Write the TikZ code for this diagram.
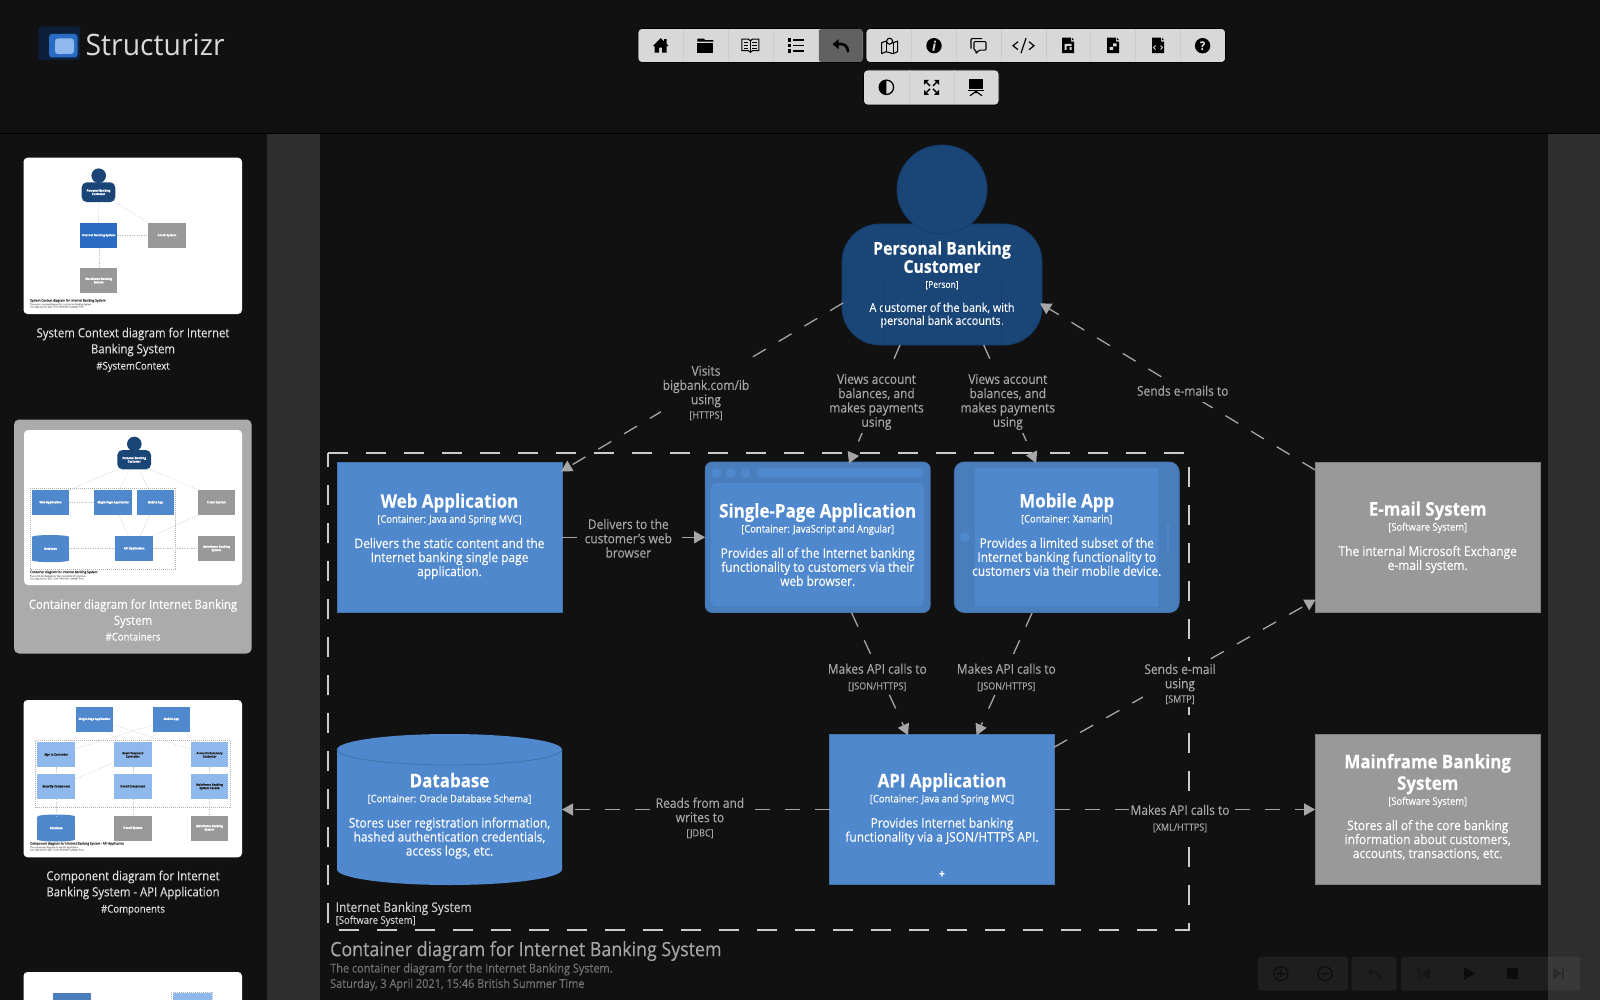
\documentclass[tikz,border=0pt]{standalone}
\usepackage{fontspec}
\setmainfont[FakeStretch=0.9,FakeBold=0.2]{Open Sans}
\newfontfamily\logofont[FakeStretch=0.96]{Open Sans}
\usetikzlibrary{arrows.meta,calc,shapes.geometric}
\AtBeginDocument{\lineskiplimit=-30pt\relax}
\definecolor{bg}{HTML}{111111}
\definecolor{stripe}{HTML}{2E2E2E}
\definecolor{cblue}{HTML}{5088CD}
\definecolor{cdark}{HTML}{4A7DBB}
\definecolor{cedge}{HTML}{4472AA}
\definecolor{pblue}{HTML}{1A4577}
\definecolor{pedge}{HTML}{163C6A}
\definecolor{gbox}{HTML}{999999}
\definecolor{gedge}{HTML}{7F7F7F}
\definecolor{lnk}{HTML}{A6A6A6}
\definecolor{bnd}{HTML}{CCCCCC}
\definecolor{tbar}{HTML}{D8D8D8}
\definecolor{tlight}{HTML}{8FB9EC}
\definecolor{sysblue}{HTML}{2A6BC4}
\newcommand\ttlA{\fontsize{18.8}{19}\bfseries\selectfont}
\newcommand\ttlC{\fontsize{17.6}{18}\bfseries\selectfont}
\newcommand\metaA{\fontsize{10.4}{11}\selectfont}
\newcommand\metaC{\fontsize{9.4}{10}\selectfont}
\newcommand\descA{\fontsize{13.25}{14}\selectfont}
\newcommand\descC{\fontsize{12.05}{13}\selectfont}
\newcommand\lmeta{\fontsize{10}{10}\selectfont}
\newcommand\toplift[1]{\rule{0pt}{#1}}
\newcommand\botdrop[1]{\rule[-#1]{0pt}{0pt}}
\tikzset{
 x=1pt,y=-1pt,
 cardbase/.style={rectangle,inner sep=0pt,outer sep=0pt,text=white,align=center,
   minimum width=225pt,minimum height=150.5pt,line width=.8pt,
   font=\fontsize{14}{14}\selectfont},
 cont/.style={cardbase,fill=cblue,draw=cedge},
 sys/.style={cardbase,fill=gbox,draw=gedge},
 lbl/.style={rectangle,fill=bg,text=lnk,align=center,inner xsep=1.5pt,inner ysep=3pt,
   font=\fontsize{13.3}{14.3}\selectfont},
 conn/.style={draw=lnk,line width=1.3pt,dash pattern=on 15pt off 15pt,
   -{Triangle[length=11pt,width=12pt,fill=lnk]}},
 tbgrp/.style={fill=tbar,draw=black,line width=.6pt,rounded corners=4pt},
 tsep/.style={draw=black!6!tbar,line width=.7pt},
 icon/.style={fill=black,draw=none},
 iconl/.style={draw=black,fill=none,line width=1.1pt},
 thumb/.style={fill=white,rounded corners=4pt},
 tb/.style={rectangle,inner sep=.3pt,outer sep=0pt,text=white,align=center,
   font=\fontsize{3}{3.4}\bfseries\selectfont},
 tc/.style={draw=black!25,line width=.3pt,dash pattern=on 1.2pt off 1.2pt},
 tbnd/.style={draw=black!30,line width=.5pt,dash pattern=on 1pt off 1pt},
 ttitle/.style={anchor=west,inner sep=0pt,text=black!75,font=\fontsize{3.4}{3.6}\selectfont},
 tsub/.style={anchor=west,inner sep=0pt,text=black!35,font=\fontsize{2.4}{2.6}\selectfont},
 side/.style={align=center,inner sep=0pt,text=black!13,font=\fontsize{12.63}{16}\selectfont},
 sidetag/.style={align=center,inner sep=0pt,text=black!13,font=\fontsize{10.67}{11}\selectfont},
 ctl/.style={fill=white,fill opacity=.055,rounded corners=3pt},
 cicon/.style={draw=black,line width=1.1pt,opacity=.6},
 cfill/.style={fill=black,opacity=.6},
 cfaint/.style={fill=black,opacity=.25},
}
\begin{document}
\begin{tikzpicture}
\useasboundingbox (0,0) rectangle (1600,1000);
\fill[bg] (0,0) rectangle (1600,1000);
% canvas stripes
\fill[stripe] (267,134) rectangle (320,1000);
\fill[stripe] (1547.5,134) rectangle (1600,1000);
\draw[black,line width=1pt] (0,133.5) -- (1600,133.5);

% ---------- logo
\fill[fill=sysblue!30!black,rounded corners=2pt] (38.5,26.5) rectangle (80,60);
\fill[sysblue,rounded corners=3pt] (49,34) rectangle (77.5,57.5);
\fill[tlight,rounded corners=3pt] (55,38.5) rectangle (74,54);
\node[anchor=west,inner sep=0pt,text=black!15,font=\logofont\fontsize{29.5}{30}\selectfont] (logo) at (85.5,45) {Structurizr};

% ---------- toolbar
\draw[tbgrp] (638,28.5) rectangle (863,62.5);
\draw[tbgrp] (866,28.5) rectangle (1225.5,62.5);
\draw[tbgrp] (863.5,70) rectangle (999,105);
\fill[black!62,rounded corners=3pt] (818.5,29) rectangle (862.7,62);
\foreach \xx in {683,728,773,818,911.5,956.5,1001,1046,1090.5,1135.5,1180.5}{\draw[tsep] (\xx,29) -- (\xx,62);}
\foreach \xx in {909,954}{\draw[tsep] (\xx,70.5) -- (\xx,104.5);}
% home
\begin{scope}[shift={(660.7,45.7)}]
\fill[icon] (-8,0.5)--(0,-7.5)--(3.5,-4)--(3.5,-6.5)--(6,-6.5)--(6,-1.5)--(8,0.5)--(6,0.5)--(6,7)--(1.5,7)--(1.5,2)--(-1.5,2)--(-1.5,7)--(-6,7)--(-6,0.5)--cycle;
\end{scope}
% folder
\begin{scope}[shift={(705.4,45.7)}]
\fill[icon] (-8,-7)--(-1.5,-7)--(0,-5.5)--(8,-5.5)--(8,-4)--(-8,-4)--cycle;
\fill[icon] (-8,-3)rectangle(8,7);
\end{scope}
% book
\begin{scope}[shift={(750.4,45.7)}]
\draw[iconl] (0,-5)--(-2,-6.5)--(-8.5,-6.5)--(-8.5,5)--(-2,5)--(0,6.5)--(2,5)--(8.5,5)--(8.5,-6.5)--(2,-6.5)--cycle;
\draw[iconl] (0,-5)--(0,6.5);
\foreach \yy in {-3.5,-.5,2.5}{\draw[line width=.9pt] (-6.5,\yy)--(-2,\yy) (2,\yy)--(6.5,\yy);}
\end{scope}
% list
\begin{scope}[shift={(795.5,45.7)}]
\foreach \yy in {-5.5,0,5.5}{\fill[icon] (-8,\yy-1.7) rectangle (-4.6,\yy+1.7);\draw[line width=1.5pt] (-2.5,\yy)--(8,\yy);}
\end{scope}
% undo
\begin{scope}[shift={(840.6,45.7)}]
\fill[icon] (-8,-1.5)--(-2,-6.5)--(-2,3.5)--cycle;
\draw[line width=2.6pt] (-3,-1.5) .. controls (4,-2.5) and (7,0) .. (7.5,6.5);
\end{scope}
% map
\begin{scope}[shift={(889.6,45.7)}]
\draw[iconl,line join=round] (-8,-3)--(-3.5,-4.5)--(3.5,-3)--(8,-4.5)--(8,6)--(3.5,8)--(-3.5,6)--(-8,8)--cycle;
\draw[iconl] (-3.5,-4.5)--(-3.5,6) (3.5,-3)--(3.5,8);
\draw[draw=black,fill=tbar,line width=1.1pt] (0,-4.5) circle[radius=3pt];
\end{scope}
% info
\fill[icon] (934,45.7) circle[radius=7.7pt];
\node[inner sep=0pt,text=tbar,font=\fontsize{13}{13}\bfseries\itshape\selectfont] (iinfo) at (934,45.7) {i};
% comments
\begin{scope}[shift={(979,45.7)}]
\draw[iconl,rounded corners=1pt] (-8,3)--(-8,-7)--(3,-7);
\draw[iconl,rounded corners=1pt] (-5,-4)--(7,-4)--(7,4.5)--(0,4.5)--(-3,8)--(-3,4.5)--(-5,4.5)--cycle;
\end{scope}
% code
\begin{scope}[shift={(1023.5,45.7)}]
\draw[line width=1.2pt] (-5.5,-4)--(-10.5,0)--(-5.5,4) (5.5,-4)--(10.5,0)--(5.5,4) (2.5,-7.5)--(-2.5,7.5);
\end{scope}
% documents
\foreach \xx/\dd in {1068/a,1113/b,1158/c}{
\begin{scope}[shift={(\xx,45.7)}]
\fill[icon] (-6,-8)--(3,-8)--(3,-4)--(6,-4)--(6,7.5)--(-6,7.5)--cycle;
\fill[icon] (4,-8)--(6,-5.5)--(4,-5.5)--cycle;
\end{scope}}
\fill[tbar] (1064.5,44) rectangle (1071.5,46) (1064.5,44) rectangle (1066.5,50) (1069.5,47) rectangle (1071.5,50);
\fill[tbar] (1109.5,47) rectangle (1113,50) (1113,43.5) rectangle (1116.5,46.5);
\draw[tbar,line width=.9pt] (1155.5,45.5)--(1153.5,47.5)--(1155.5,49.5) (1160.5,45.5)--(1162.5,47.5)--(1160.5,49.5);
% help
\fill[icon] (1202.6,45.7) circle[radius=7.7pt];
\node[inner sep=0pt,text=tbar,font=\fontsize{12}{12}\bfseries\selectfont] (ihelp) at (1202.6,45.7) {?};
% contrast
\draw[draw=black,line width=1.3pt] (886.4,87.3) circle[radius=7.2pt];
\fill[black] (886.4,80.1) arc[start angle=90,end angle=270,radius=7.2pt] -- cycle;
% expand
\begin{scope}[shift={(931.5,87.3)}]
\foreach \sx/\sy in {1/1,1/-1,-1/1,-1/-1}{
\fill[icon] (\sx*7.5,\sy*7.5)--(\sx*7.5,\sy*2.5)--(\sx*2.5,\sy*7.5)--cycle;
\draw[line width=1.4pt] (\sx*5,\sy*5)--(\sx*1.5,\sy*1.5);}
\end{scope}
% presentation
\begin{scope}[shift={(976,87.3)}]
\fill[icon] (-7,-8)rectangle(7,1.5);
\fill[icon] (-8,2.5)rectangle(8,4);
\draw[line width=1.2pt] (0,4)--(-6,8.5) (0,4)--(6,8.5) (0,4)--(0,6);
\end{scope}

% ---------- sidebar
\fill[black!33,rounded corners=5pt] (14,419.5) rectangle (251.7,653.5);
\fill[thumb] (23.5,157.7) rectangle (242,314);
\fill[thumb] (24,430) rectangle (242,585);
\fill[thumb] (23.5,700) rectangle (242,857.3);
\fill[thumb] (23.5,972) rectangle (242,1006);
% thumbnail 1
\fill[pblue] (98.7,175.7) circle[radius=7.3pt];
\node[tb,fill=pblue,rounded corners=5pt,minimum width=33.6pt,minimum height=19.7pt] (t1p) at (98.5,192.2) {Personal Banking\\Customer};
\node[tb,fill=sysblue,minimum width=37.3pt,minimum height=25.3pt] (t1i) at (98.7,235.4) {Internet Banking System};
\node[tb,fill=gbox,minimum width=37.3pt,minimum height=25.3pt] (t1e) at (167,235.4) {E-mail System};
\node[tb,fill=gbox,minimum width=37.3pt,minimum height=25pt] (t1m) at (98.7,280.8) {Mainframe Banking\\System};
\draw[tc] (t1p) -- (t1i);\draw[tc] (t1i) -- (t1e);\draw[tc] (t1e.north west) -- (t1p.south east);\draw[tc] (t1i) -- (t1m);
\node[ttitle] (t1t) at (30,300.7) {System Context diagram for Internet Banking System};
\node[tsub] (t1s) at (30,304.5) {The system context diagram for the Internet Banking System.};
\node[tsub] (t1d) at (30,307) {Saturday, April 3, 2021, 3:46 PM British Summer Time};
% thumbnail 2
\fill[pblue] (134.3,444) circle[radius=7.3pt];
\draw[tbnd] (30,488.3) rectangle (175.7,569);
\node[tb,fill=pblue,rounded corners=5pt,minimum width=33.6pt,minimum height=19.3pt] (t2p) at (134.2,459.7) {Personal Banking\\Customer};
\node[tb,fill=cblue,minimum width=37.6pt,minimum height=25pt] (t2w) at (50.5,502.5) {Web Application};
\node[tb,fill=cblue,minimum width=37.6pt,minimum height=25pt] (t2s) at (113.2,502.5) {Single-Page Application};
\node[tb,fill=cblue,minimum width=37.6pt,minimum height=25pt] (t2a) at (155.4,502.5) {Mobile App};
\node[tb,fill=gbox,minimum width=37.6pt,minimum height=25pt] (t2e) at (216.5,502.5) {E-mail System};
\fill[cblue] (50.5,537) ellipse[x radius=18.8pt,y radius=2pt] (50.5,560.2) ellipse[x radius=18.8pt,y radius=2pt];
\node[tb,fill=cblue,minimum width=37.6pt,minimum height=23pt] (t2d) at (50.5,548.6) {Database};
\node[tb,fill=cblue,minimum width=37.6pt,minimum height=25pt] (t2b) at (134.2,548.6) {API Application};
\node[tb,fill=gbox,minimum width=37.6pt,minimum height=25pt] (t2m) at (216.5,548.6) {Mainframe Banking\\System};
\draw[tc] (t2p.south west) -- (t2w.north east);\draw[tc] (t2p) -- (t2s);\draw[tc] (t2p) -- (t2a);\draw[tc] (t2e.north west) -- (t2p.south east);
\draw[tc] (t2w) -- (t2s);\draw[tc] (t2s) -- (t2b);\draw[tc] (t2a) -- (t2b);\draw[tc] (t2b) -- (t2d);\draw[tc] (t2b) -- (t2m);\draw[tc] (t2b.north east) -- (t2e.south west);
\node[ttitle] (t2t) at (30,572.3) {Container diagram for Internet Banking System};
\node[tsub] (t2u) at (30,576.3) {The container diagram for the Internet Banking System.};
\node[tsub] (t2v) at (30,578.8) {Saturday, April 3, 2021, 3:46 PM British Summer Time};
% thumbnail 3
\draw[tbnd] (35.7,740.7) rectangle (230,807.3);
\node[tb,fill=cblue,minimum width=37.6pt,minimum height=25pt] (t3s) at (94.5,719.2) {Single-Page Application};
\node[tb,fill=cblue,minimum width=37.6pt,minimum height=25pt] (t3a) at (171.3,719.2) {Mobile App};
\foreach \nn/\xx/\yy/\ttt in {c1/56.2/754.8/Sign In Controller,c2/132.8/754.8/Reset Password\\Controller,c3/209.5/754.8/Accounts Summary\\Controller,c4/56.2/786.6/Security Component,c5/132.8/786.6/E-mail Component,c6/209.5/786.6/Mainframe Banking\\System Facade}{
\node[tb,fill=tlight,text=black!85,minimum width=37.6pt,minimum height=25pt] (t3\nn) at (\xx,\yy) {\ttt};}
\fill[cblue] (56.2,816.5) ellipse[x radius=18.8pt,y radius=2pt] (56.2,839.5) ellipse[x radius=18.8pt,y radius=2pt];
\node[tb,fill=cblue,minimum width=37.6pt,minimum height=23pt] (t3d) at (56.2,828) {Database};
\node[tb,fill=gbox,minimum width=37.6pt,minimum height=25pt] (t3e) at (132.8,828) {E-mail System};
\node[tb,fill=gbox,minimum width=37.6pt,minimum height=25pt] (t3m) at (209.5,828) {Mainframe Banking\\System};
\draw[tc] (t3s) -- (t3c1);\draw[tc] (t3s) -- (t3c2);\draw[tc] (t3s) -- (t3c3);\draw[tc] (t3a) -- (t3c1);\draw[tc] (t3a) -- (t3c2);\draw[tc] (t3a) -- (t3c3);
\draw[tc] (t3c1) -- (t3c4);\draw[tc] (t3c2) -- (t3c5);\draw[tc] (t3c3) -- (t3c6);\draw[tc] (t3c2) -- (t3c4);\draw[tc] (t3c4) -- (t3d);\draw[tc] (t3c5) -- (t3e);\draw[tc] (t3c6) -- (t3m);
\node[ttitle] (t3t) at (30,843.7) {Component diagram for Internet Banking System - API Application};
\node[tsub] (t3u) at (30,847.5) {The component diagram for the API Application.};
\node[tsub] (t3v) at (30,850) {Saturday, April 3, 2021, 3:46 PM British Summer Time};
% thumbnail 4
\fill[cdark] (53.3,993.3) rectangle (90.7,1003);
\draw[tbnd] (171.7,992) rectangle (212.7,1003);
\fill[tlight] (172.7,993.3) rectangle (211.7,1003);
% sidebar captions
\node[side] (s1) at (133,342) {System Context diagram for Internet\\Banking System};
\node[sidetag] (s1t) at (133,367) {\#SystemContext};
\node[side,text=white] (s2) at (133,613.5) {Container diagram for Internet Banking\\System};
\node[sidetag,text=white] (s2t) at (133,636.7) {\#Containers};
\node[side] (s3) at (133,885) {Component diagram for Internet\\Banking System - API Application};
\node[sidetag] (s3t) at (133,910) {\#Components};

% ---------- software system boundary
\coordinate (bnw) at (328.3,453.3);
\coordinate (bse) at (1188.5,930);
\draw[bnd,line width=2pt,dash pattern=on 20pt off 18pt] (bnw) -- (bnw -| bse) -- (bse) -- (bse -| bnw) -- cycle;
\node[anchor=west,inner sep=0pt,text=bnd,font=\fontsize{13.25}{14}\selectfont] (bname) at (335.5,908.5) {Internet Banking System};
\node[anchor=west,inner sep=0pt,text=bnd,font=\fontsize{10.55}{11}\selectfont] (btype) at (335.5,921) {[Software System]};

% ---------- elements
\node[cardbase,fill=pblue,draw=pedge,minimum width=200pt,minimum height=121pt,rounded corners=38pt] (person) at (942,284.5)
 {\ttlC Personal Banking\\[4.2pt]\ttlC Customer\\[1pt]\metaC [Person]\\[10pt]\descC A customer of the bank, with\\[-1pt]\descC personal bank accounts.};
\draw[pedge,line width=.8pt] ($(person.south west)+(41,-67)$) -- ($(person.south west)+(41,0)$)
  ($(person.south east)+(-40.4,-67)$) -- ($(person.south east)+(-40.4,0)$);
\node[ellipse,fill=pblue,draw=pedge,line width=.8pt,inner sep=0pt,outer sep=0pt,minimum width=90pt,minimum height=89pt] (head) at (942,189.5) {};

\node[cont] (web) at (449.5,537.25)
 {\ttlA Web Application\\[1pt]\metaA [Container: Java and Spring MVC]\\[11.3pt]\descA Delivers the static content and the\\\descA Internet banking single page\\\botdrop{5pt}\descA application.};

\node[cont,fill=cdark,rounded corners=7pt,minimum width=225pt] (spabox) at (817.7,537.25) {};
\fill[cblue,rounded corners=5pt] ($(spabox.north west)+(6,21)$) rectangle ($(spabox.north west)+(218.6,144.7)$);
\foreach \dx in {11,25.7,40.4}{\fill[cblue] ($(spabox.north west)+(\dx,11)$) circle[radius=5pt];}
\fill[cblue,rounded corners=4.5pt] ($(spabox.north west)+(51,6)$) rectangle ($(spabox.north west)+(218.6,15.7)$);
\node[cardbase] (spa) at (817.7,537.25)
 {\toplift{29pt}\ttlA Single-Page Application\\[1pt]\metaA [Container: JavaScript and Angular]\\[11.3pt]\descA Provides all of the Internet banking\\\descA functionality to customers via their\\\descA web browser.};

\node[cont,fill=cdark,rounded corners=10pt] (mobbox) at (1066.75,537.25) {};
\fill[cblue,rounded corners=1pt] ($(mobbox.north west)+(20.5,6)$) rectangle ($(mobbox.north west)+(204,144.7)$);
\fill[cblue] ($(mobbox.north west)+(10.5,75)$) circle[radius=5pt];
\fill[cblue] ($(mobbox.north west)+(212.5,63)$) rectangle ($(mobbox.north west)+(214.5,88)$);
\node[cardbase] (mobile) at (1066.75,537.25)
 {\ttlA Mobile App\\[1pt]\metaA [Container: Xamarin]\\[11.3pt]\descA Provides a limited subset of the\\\descA Internet banking functionality to\\\botdrop{5.5pt}\descA customers via their mobile device.};

\node[sys] (email) at (1427.7,537.25)
 {\ttlA E-mail System\\[1pt]\metaA [Software System]\\[11.3pt]\descA The internal Microsoft Exchange\\\descA e-mail system.};

\node[cont] (api) at (942,809.5)
 {\toplift{24pt}\ttlA API Application\\[1pt]\metaA [Container: Java and Spring MVC]\\[11.3pt]\descA Provides Internet banking\\\descA functionality via a JSON/HTTPS API.\\\phantom{\descA x}};
\node[inner sep=0pt,text=white,font=\fontsize{11}{11}\bfseries\selectfont] (apiplus) at (942,874.3) {+};

\coordinate (dbc) at (449.5,809.5);
\fill[cblue] ($(dbc)+(-112.5,-60)$) arc[start angle=180,end angle=0,x radius=112.5pt,y radius=15.5pt] -- ($(dbc)+(112.5,60)$) arc[start angle=0,end angle=-180,x radius=112.5pt,y radius=15.5pt] -- cycle;
\draw[cedge,line width=.8pt] ($(dbc)+(-112.5,-60)$) arc[start angle=180,end angle=360,x radius=112.5pt,y radius=15.5pt];
\node[cardbase] (db) at (dbc)
 {\toplift{27pt}\ttlA Database\\[1pt]\metaA [Container: Oracle Database Schema]\\[11.3pt]\descA Stores user registration information,\\\descA hashed authentication credentials,\\\descA access logs, etc.};

\node[sys] (mainframe) at (1427.7,809.5)
 {\ttlA Mainframe Banking\\[7.5pt]\ttlA System\\[1pt]\metaA [Software System]\\[11.3pt]\descA Stores all of the core banking\\\descA information about customers,\\\botdrop{7pt}\descA accounts, transactions, etc.};

% ---------- connectors
\draw[conn] ($(person.west)+(1,18.5)$) -- ($(web.north east)+(-1,9.5)$);
\draw[conn] ($(person.south)+(-42,0)$) -- ($(spa.north)+(31.3,1.5)$);
\draw[conn] ($(person.south)+(41.7,0)$) -- ($(mobile.north)+(-30.7,1)$);
\draw[conn] ($(email.north west)+(0,8)$) -- ($(person.east)+(-2,18.8)$);
\draw[conn] (web.east |- web.center) -- (spa.west |- web.center);
\draw[conn] ($(spa.south)+(34,0.5)$) -- ($(api.north)+(-34,1)$);
\draw[conn] ($(mobile.south)+(-34.7,0.5)$) -- ($(api.north)+(34.6,1)$);
\draw[conn] ($(api.north east)+(-.5,13)$) -- ($(email.south west)+(.5,-13)$);
\draw[conn] (api.west) -- (db.east);
\draw[conn] (api.east) -- (mainframe.west);

% ---------- connector labels
\node[lbl] (lvisits) at (706,393) {Visits\\bigbank.com/ib\\using\\\lmeta [HTTPS]};
\node[lbl] (lviews1) at (876.5,402) {Views account\\balances, and\\makes payments\\using};
\node[lbl] (lviews2) at (1007.8,402) {Views account\\balances, and\\makes payments\\using};
\node[lbl,inner ysep=6pt] (lsends) at (1182.7,390.7) {Sends e-mails to};
\node[lbl] (ldeliver) at (628.3,538.3) {Delivers to the\\customer's web\\browser};
\node[lbl] (lapi1) at (877.3,677.5) {Makes API calls to\\[1.5pt]\lmeta [JSON/HTTPS]};
\node[lbl] (lapi2) at (1006.3,677.5) {Makes API calls to\\[1.5pt]\lmeta [JSON/HTTPS]};
\node[lbl] (lsmtp) at (1180,684) {Sends e-mail\\using\\\lmeta [SMTP]};
\node[lbl] (lreads) at (700,818) {Reads from and\\writes to\\\lmeta [JDBC]};
\node[lbl] (lxml) at (1180,818.5) {Makes API calls to\\[1.5pt]\lmeta [XML/HTTPS]};

% ---------- diagram title
\node[anchor=west,inner sep=0pt,text=lnk,font=\fontsize{19.8}{20}\selectfont] (dtitle) at (330,951) {Container diagram for Internet Banking System};
\node[anchor=west,inner sep=0pt,text=black!55,font=\fontsize{12.14}{12.5}\selectfont] (dsub) at (330,969.3) {The container diagram for the Internet Banking System.};
\node[anchor=west,inner sep=0pt,text=black!55,font=\fontsize{12.14}{12.5}\selectfont] (ddate) at (330,984.7) {Saturday, 3 April 2021, 15:46 British Summer Time};

% ---------- presentation controls
\fill[ctl] (1258,956.7) rectangle (1348,990.7);
\fill[ctl] (1351.4,956.7) rectangle (1396.7,990.7);
\fill[ctl] (1401,956.7) rectangle (1580,990.7);
\draw[cicon] (1281,973.7) circle[radius=7pt] (1277,973.7)--(1285,973.7) (1281,969.7)--(1281,977.7);
\draw[cicon] (1325,973.7) circle[radius=7pt] (1321,973.7)--(1329,973.7);
\fill[cfaint] (1367,972)--(1372,968)--(1372,976)--cycle;
\draw[cicon,opacity=.25,line width=1.8pt] (1371,972) .. controls (1377,971.5) and (1380,974) .. (1381,979);
\fill[cfaint] (1418,968) rectangle (1420,979);
\fill[cfaint] (1430,968)--(1430,979)--(1421,973.5)--cycle;
\fill[cfill] (1464,967)--(1464,980)--(1475,973.5)--cycle;
\fill[cfill] (1507,968) rectangle (1518,979);
\fill[cfaint] (1553,968)--(1553,979)--(1562,973.5)--cycle;
\fill[cfaint] (1562,968) rectangle (1564,979);
\end{tikzpicture}
\end{document}
